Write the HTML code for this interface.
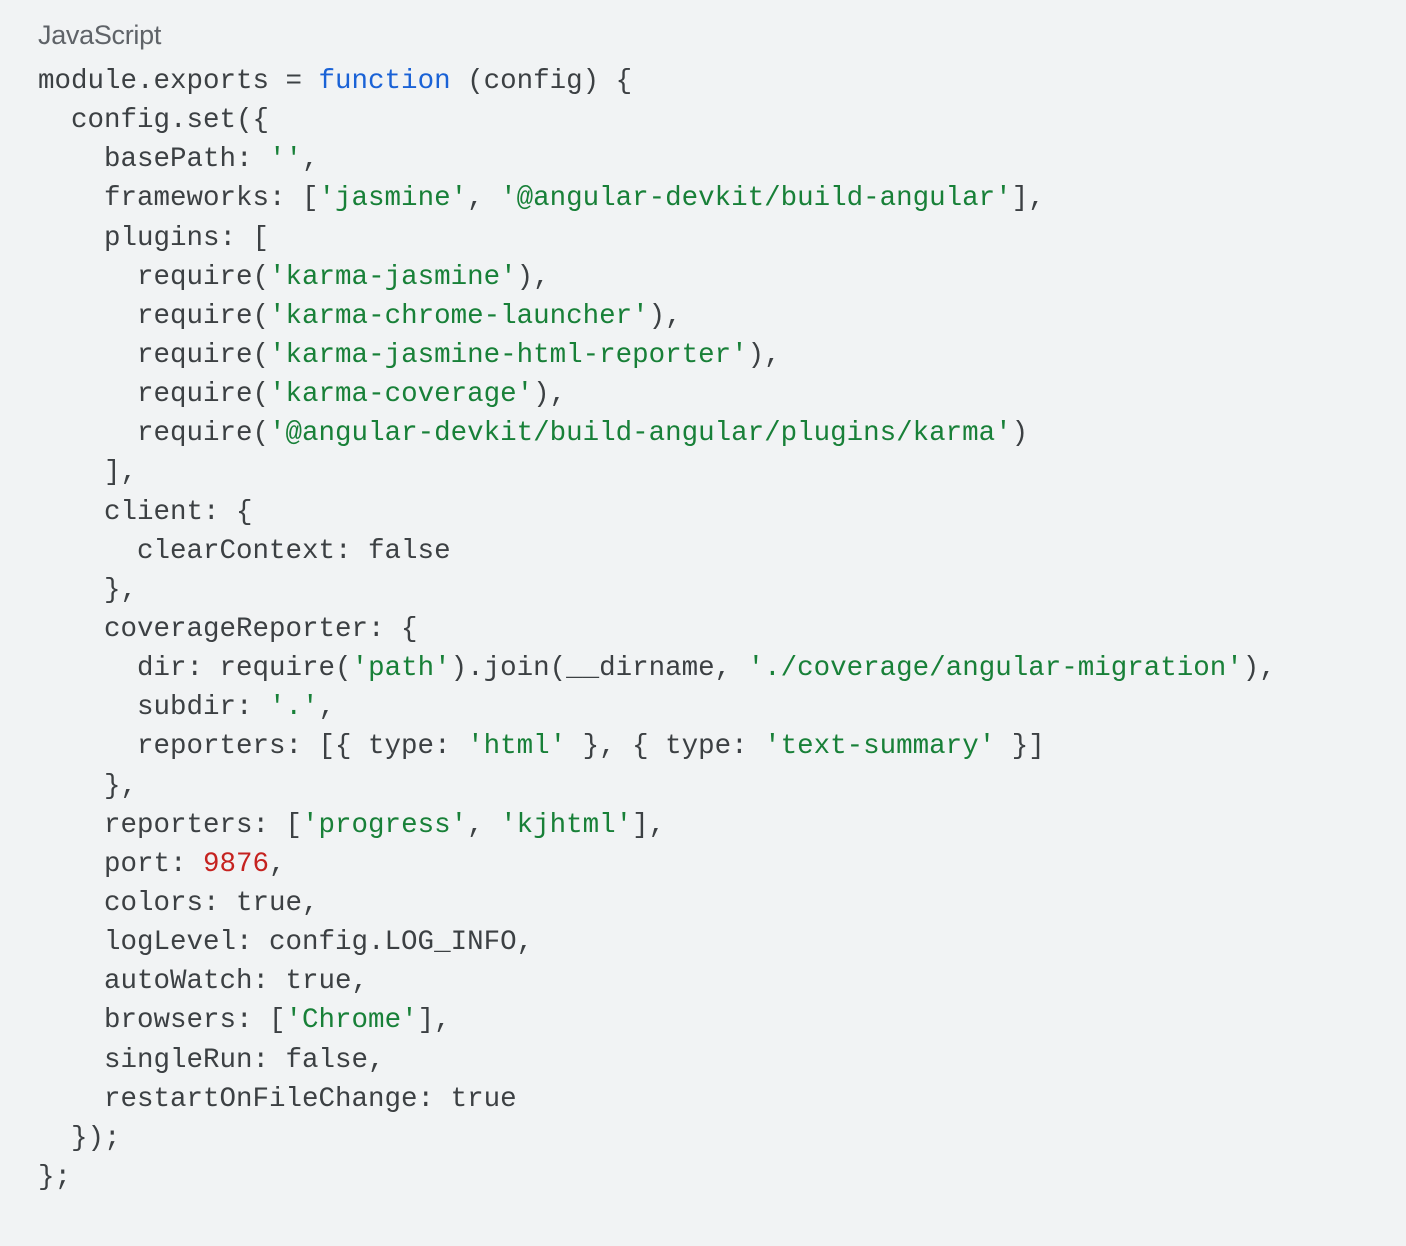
<!DOCTYPE html>
<html><head><meta charset="utf-8"><style>
html,body{margin:0;padding:0;}
body{width:1406px;height:1246px;background:#f1f3f4;position:relative;overflow:hidden;}
.lbl{position:absolute;left:38px;top:20px;font-family:"Liberation Sans",sans-serif;font-size:27px;line-height:30px;color:#5f6368;letter-spacing:-0.3px;}
pre{position:absolute;left:38px;top:62px;margin:0;font-family:"Liberation Mono",monospace;font-size:27.5px;line-height:39.14px;color:#3c4043;}
.k{color:#1a62d6}.s{color:#188038}.n{color:#c5221f}
</style></head><body>
<div class="lbl">JavaScript</div>
<pre>module.exports = <span class="k">function</span> (config) {
  config.set({
    basePath: <span class="s">''</span>,
    frameworks: [<span class="s">'jasmine'</span>, <span class="s">'@angular-devkit/build-angular'</span>],
    plugins: [
      require(<span class="s">'karma-jasmine'</span>),
      require(<span class="s">'karma-chrome-launcher'</span>),
      require(<span class="s">'karma-jasmine-html-reporter'</span>),
      require(<span class="s">'karma-coverage'</span>),
      require(<span class="s">'@angular-devkit/build-angular/plugins/karma'</span>)
    ],
    client: {
      clearContext: false
    },
    coverageReporter: {
      dir: require(<span class="s">'path'</span>).join(__dirname, <span class="s">'./coverage/angular-migration'</span>),
      subdir: <span class="s">'.'</span>,
      reporters: [{ type: <span class="s">'html'</span> }, { type: <span class="s">'text-summary'</span> }]
    },
    reporters: [<span class="s">'progress'</span>, <span class="s">'kjhtml'</span>],
    port: <span class="n">9876</span>,
    colors: true,
    logLevel: config.LOG_INFO,
    autoWatch: true,
    browsers: [<span class="s">'Chrome'</span>],
    singleRun: false,
    restartOnFileChange: true
  });
};</pre>
</body></html>
